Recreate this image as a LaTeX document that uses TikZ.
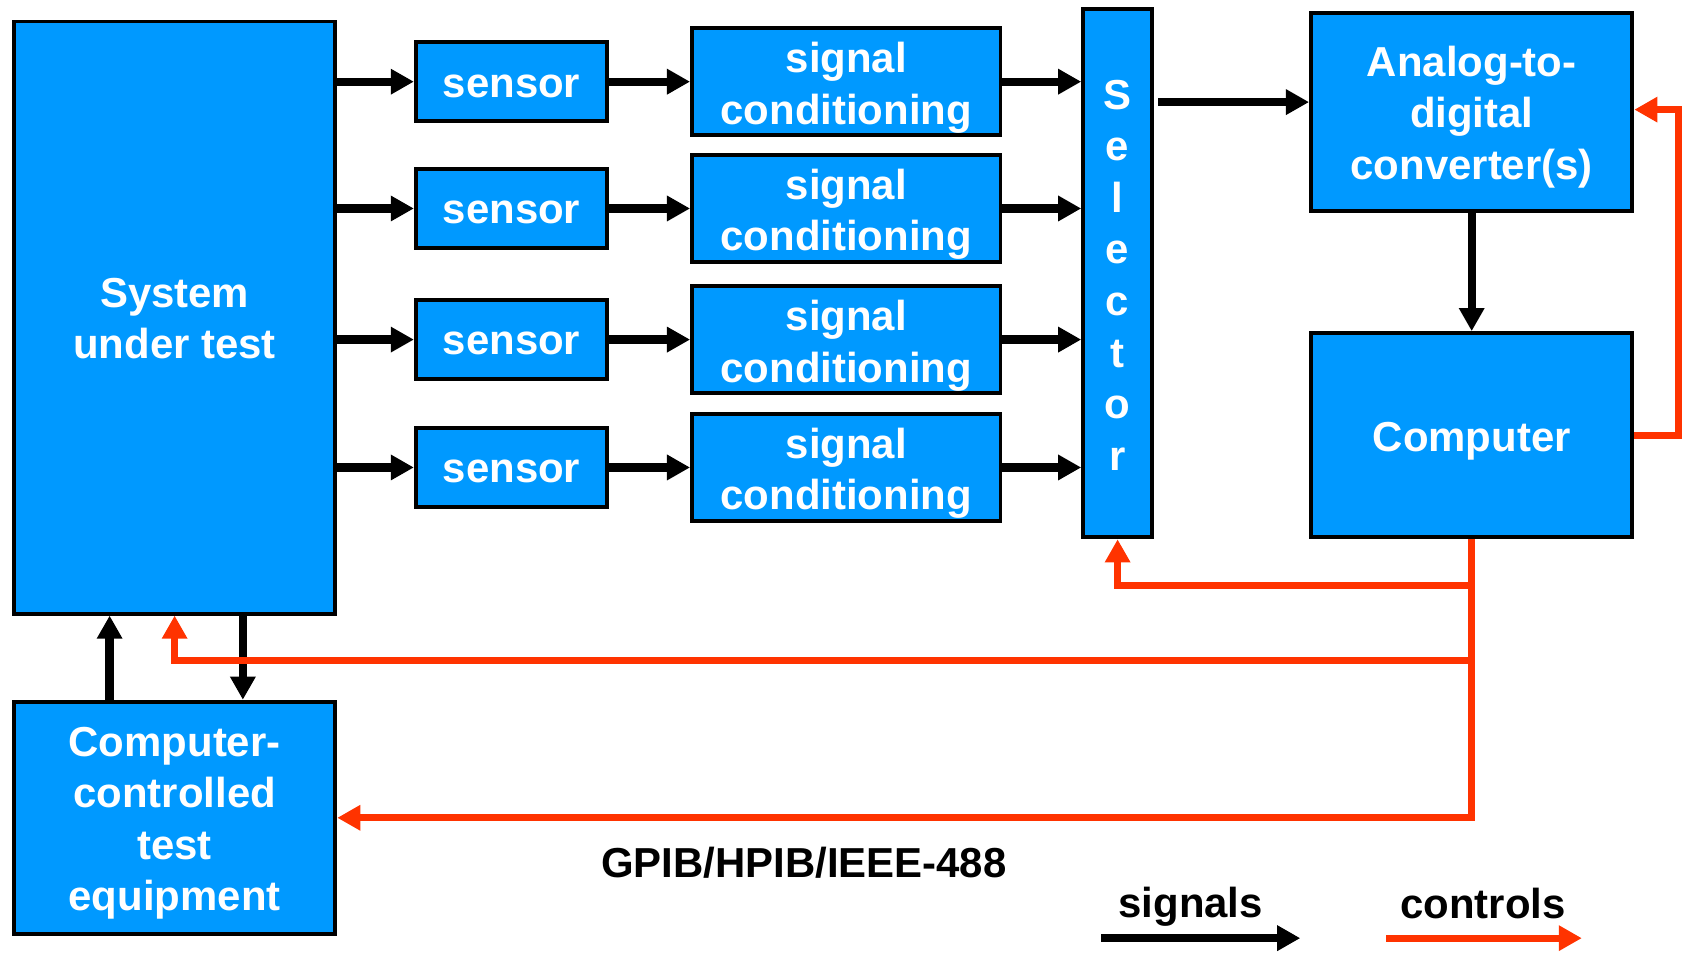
\documentclass[tikz,border=0pt]{standalone}
\usepackage{fontspec}
\setmainfont{Liberation Sans}
\usetikzlibrary{arrows.meta,calc}
\definecolor{boxblue}{RGB}{0,153,255}
\definecolor{ctlred}{RGB}{255,51,0}
\begin{document}
\begin{tikzpicture}[x=0.02cm,y=-0.02cm,
  every node/.style={font=\bfseries\fontsize{22.2}{27.3}\selectfont},
  blk/.style={draw=black, line width=2.1pt, fill=boxblue, inner sep=0pt},
  lbl/.style={text=white, align=center, inner sep=0pt},
  sz/.style 2 args={minimum width=#1*0.02cm, minimum height=#2*0.02cm},
  sig/.style={black, line width=4.4pt, -{Triangle[length=0.43cm,width=0.45cm]}},
  ctl/.style={ctlred, line width=3.7pt, -{Triangle[length=0.43cm,width=0.45cm]}}
]
\useasboundingbox (0,0) rectangle (1568,886);

% main blocks
\node[blk, sz={299}{551}] (sut) at (162.5,295.5) {};
\node[lbl] (sut-t) at ($(sut)+(0,1)$) {System\\under test};
\node[blk, sz={299}{216}] (ccte) at (162.5,761) {};
\node[lbl] (ccte-t) at ($(ccte)+(0,5)$) {Computer-\\controlled\\test\\equipment};

\foreach \i/\y in {1/76, 2/194, 3/316, 4/435} {
  \node[blk, sz={178}{73}] (s\i) at (476,\y) {};
  \node[lbl] (s\i-t) at ($(s\i)+(0,4)$) {sensor};
  \node[blk, sz={287}{99}] (c\i) at (787.5,\y) {};
  \node[lbl] (c\i-t) at ($(c\i)+(0,5.5)$) {signal\\conditioning};
}

\node[blk, sz={64}{492}] (sel) at (1040,254) {};
\node[lbl] (sel-t) at ($(sel)+(0,2)$) {S\\e\\l\\e\\c\\t\\o\\r};
\node[blk, sz={299}{184}] (adc) at (1369.5,104) {};
\node[lbl] (adc-t) at ($(adc)+(0,5)$) {Analog-to-\\digital\\converter(s)};
\node[blk, sz={299}{190}] (comp) at (1369.5,405) {};
\node[lbl] (comp-t) at ($(comp)+(0,6)$) {Computer};

% signal paths
\foreach \i in {1,...,4} {
  \draw[sig] (sut.east |- s\i) -- (s\i.west);
  \draw[sig] (s\i.east) -- (c\i.west);
  \draw[sig] (c\i.east) -- (sel.west |- c\i);
}
\coordinate (selout) at (1078,95);
\draw[sig] (selout) -- (selout -| adc.west);
\draw[sig] (adc.south) -- (comp.north);

\coordinate (up) at (102,0);
\coordinate (dn) at (226,0);
\draw[sig] (ccte.north -| up) -- (sut.south -| up);
\draw[sig] (sut.south -| dn) -- (ccte.north -| dn);

% control paths
\coordinate (rr) at (1562,102);
\draw[ctl] (comp.east) -- (comp.east -| rr) -- (rr) -- (rr -| adc.east);
\draw[ctl] (comp.south) |- (ccte.east);
\coordinate (j1) at (1369.5,545);
\coordinate (j2) at (1369.5,615);
\draw[ctl] (j1) -| (sel.south);
\draw[ctl] (j2) -| (sut.south);

% bus label and legend
\node (bus) at (748,803) {GPIB/HPIB/IEEE-488};
\node (lsig) at (1108,844) {signals};
\node (lctl) at (1380,841) {controls};
\coordinate (ls1) at (1025,873);
\coordinate (ls2) at (1210,873);
\coordinate (lc1) at (1290,873);
\coordinate (lc2) at (1472,873);
\draw[sig] (ls1) -- (ls2);
\draw[ctl] (lc1) -- (lc2);
\end{tikzpicture}
\end{document}
